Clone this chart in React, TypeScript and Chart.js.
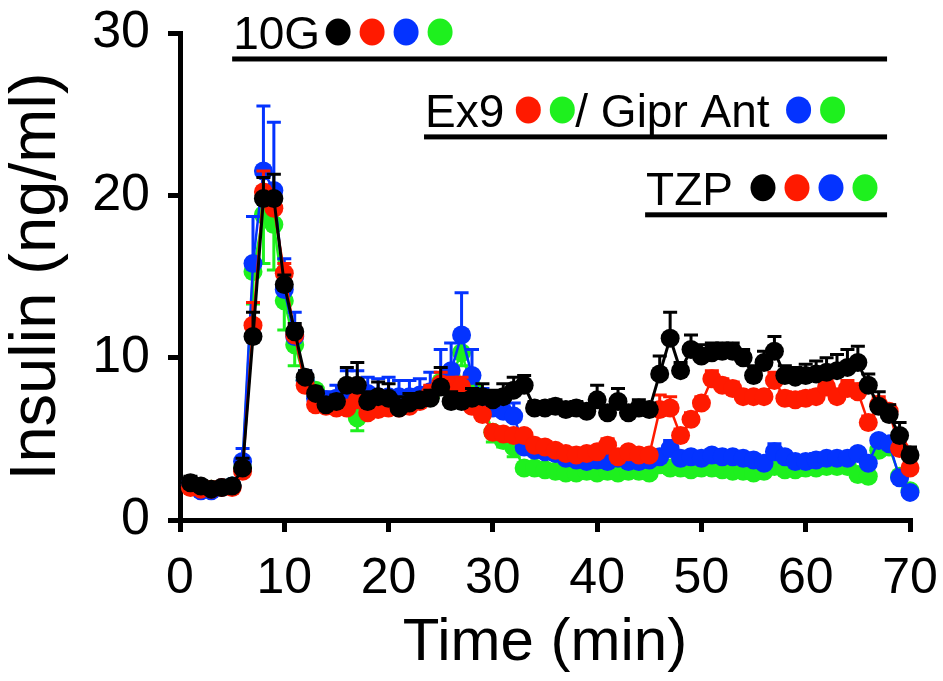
import React, { useEffect, useRef } from 'react';
import { Chart, registerables } from 'chart.js';

Chart.register(...registerables);

const FONT = '"Liberation Sans", Arial, Helvetica, sans-serif';

// Time points (min)
const TIME = [
  1, 2, 3, 4, 5, 6, 7, 8, 9, 10,
  11, 12, 13, 14, 15, 16, 17, 18, 19, 20,
  21, 22, 23, 24, 25, 26, 27, 28, 29, 30,
  31, 32, 33, 34, 35, 36, 37, 38, 39, 40,
  41, 42, 43, 44, 45, 46, 47, 48, 49, 50,
  51, 52, 53, 54, 55, 56, 57, 58, 59, 60,
  61, 62, 63, 64, 65, 66, 67, 68, 69, 70,
];

// Insulin (ng/ml)
const BLACK = [
  2.3, 2.1, 1.9, 2.0, 2.1, 3.2, 11.3, 19.8, 19.8, 14.5,
  11.6, 8.8, 7.8, 7.1, 7.3, 8.3, 8.3, 7.3, 7.6, 7.5,
  6.9, 7.2, 7.4, 7.5, 8.2, 7.3, 7.3, 7.5, 7.6, 7.4,
  7.6, 8.0, 8.3, 6.9, 6.9, 7.0, 6.8, 6.9, 6.7, 7.4,
  6.6, 7.3, 6.6, 6.9, 6.8, 9.0, 11.2, 9.2, 10.5, 10.1,
  10.3, 10.4, 10.4, 10.0, 8.9, 9.7, 10.4, 8.9, 8.8, 8.9,
  9.0, 9.1, 9.2, 9.4, 9.7, 8.3, 7.0, 6.5, 5.2, 4.0,
];
const BLACK_ERR = [
  0.4, 0.3, 0.3, 0.3, 0.3, 0.6, 1.5, 1.3, 1.5, 0.6,
  0.5, 0.4, 0.4, 0.4, 0.4, 1.1, 1.4, 0.6, 0.9, 0.9,
  0.7, 0.6, 0.4, 0.5, 1.2, 0.6, 0.5, 0.6, 0.8, 0.6,
  0.8, 0.8, 0.6, 0.4, 0.4, 0.4, 0.4, 0.4, 0.4, 0.9,
  0.4, 0.8, 0.4, 0.5, 0.4, 1.1, 1.6, 0.5, 0.9, 0.7,
  0.6, 0.5, 0.5, 0.5, 0.6, 0.7, 0.9, 0.6, 0.6, 0.7,
  0.8, 0.9, 1.0, 1.1, 1.0, 0.7, 0.9, 0.6, 0.8, 0.5,
];

const RED = [
  2.0, 1.9, 1.9, 2.0, 2.0, 3.0, 12.0, 20.2, 19.2, 15.2,
  11.4, 8.3, 7.1, 7.0, 6.9, 6.9, 7.4, 6.6, 6.8, 6.9,
  6.9, 7.0, 7.3, 7.8, 8.4, 8.2, 8.2, 7.0, 6.5, 5.4,
  5.3, 5.2, 5.2, 4.6, 4.5, 4.3, 4.1, 4.0, 4.1, 4.2,
  4.6, 3.9, 4.2, 4.0, 4.0, 6.8, 6.9, 5.2, 6.2, 7.2,
  8.7, 8.3, 8.1, 7.6, 7.6, 7.6, 8.6, 7.5, 7.4, 7.5,
  7.6, 8.2, 7.6, 8.1, 7.9, 6.0, 7.1, 6.7, 4.4, 3.2,
];
const RED_ERR = [
  0.3, 0.3, 0.3, 0.3, 0.3, 0.5, 1.4, 1.3, 0.6, 0.6,
  0.5, 0.4, 0.4, 0.3, 0.3, 0.3, 0.4, 0.3, 0.3, 0.3,
  0.3, 0.3, 0.4, 0.5, 0.7, 0.6, 0.6, 0.4, 0.3, 0.3,
  0.3, 0.3, 0.3, 0.3, 0.3, 0.3, 0.3, 0.3, 0.3, 0.3,
  0.4, 0.3, 0.3, 0.3, 0.3, 0.9, 0.7, 0.4, 0.4, 0.4,
  0.5, 0.4, 0.4, 0.3, 0.3, 0.3, 0.5, 0.4, 0.4, 0.4,
  0.4, 0.5, 0.4, 0.5, 0.5, 0.4, 0.5, 0.4, 0.4, 0.3,
];

const BLUE = [
  2.2, 1.8, 1.8, 2.0, 2.1, 3.6, 15.8, 21.5, 20.3, 14.2,
  11.3, 8.6, 7.5, 7.4, 7.5, 8.0, 8.2, 7.8, 7.6, 7.6,
  7.6, 7.6, 7.7, 7.9, 8.3, 9.2, 11.4, 8.9, 7.3, 6.9,
  6.7, 6.4, 4.5, 4.3, 4.2, 4.1, 3.8, 3.7, 3.6, 3.7,
  3.6, 3.8, 3.6, 3.6, 3.7, 3.9, 4.4, 3.8, 3.9, 3.8,
  4.0, 3.9, 3.9, 3.8, 3.7, 3.5, 4.2, 3.9, 3.6, 3.6,
  3.7, 3.8, 3.8, 3.8, 4.1, 3.5, 4.9, 4.7, 2.6, 1.7,
];
const BLUE_ERR = [
  0.3, 0.2, 0.2, 0.3, 0.3, 0.8, 2.9, 4.0, 4.2, 1.9,
  1.5, 0.6, 0.5, 0.5, 0.8, 1.2, 1.0, 1.0, 1.1, 1.2,
  1.0, 1.0, 1.0, 1.2, 2.2, 1.7, 2.6, 1.6, 0.8, 0.5,
  0.6, 0.8, 0.6, 0.5, 0.5, 0.4, 0.3, 0.3, 0.3, 0.3,
  0.3, 0.3, 0.3, 0.3, 0.3, 0.3, 0.5, 0.3, 0.3, 0.3,
  0.3, 0.3, 0.3, 0.3, 0.3, 0.3, 0.5, 0.3, 0.3, 0.3,
  0.4, 0.3, 0.3, 0.3, 0.3, 0.3, 0.3, 0.3, 0.3, 0.3,
];

const GREEN = [
  2.1, 2.0, 1.9, 2.0, 2.1, 3.2, 15.3, 18.8, 18.2, 13.5,
  10.8, 8.6, 8.0, 7.2, 7.3, 7.3, 6.3, 7.2, 7.3, 7.2,
  7.3, 7.3, 7.5, 7.6, 8.5, 8.8, 10.3, 8.2, 7.2, 5.4,
  4.9, 4.5, 3.2, 3.2, 3.1, 3.0, 2.9, 2.9, 3.0, 2.9,
  3.0, 2.9, 3.0, 3.0, 2.9, 3.4, 3.2, 3.2, 3.1, 3.2,
  3.2, 3.1, 3.0, 3.0, 2.9, 3.0, 3.3, 3.1, 3.1, 3.2,
  3.2, 3.3, 3.3, 3.3, 2.8, 2.7, 4.3, 4.5, 2.7, 1.8,
];
const GREEN_ERR = [
  0.3, 0.2, 0.2, 0.2, 0.2, 0.5, 2.0, 3.0, 2.8, 1.8,
  1.3, 0.5, 0.4, 0.3, 0.3, 0.3, 0.8, 0.3, 0.3, 0.3,
  0.3, 0.3, 0.3, 0.3, 0.5, 0.6, 0.8, 0.5, 0.4, 0.6,
  0.4, 0.6, 0.3, 0.3, 0.3, 0.3, 0.3, 0.3, 0.3, 0.3,
  0.3, 0.3, 0.3, 0.3, 0.3, 0.3, 0.3, 0.3, 0.3, 0.3,
  0.3, 0.3, 0.3, 0.3, 0.3, 0.3, 0.3, 0.3, 0.3, 0.3,
  0.3, 0.3, 0.3, 0.3, 0.3, 0.3, 0.3, 0.3, 0.3, 0.3,
];

const C_BLACK = '#000000';
const C_RED = '#ff1a00';
const C_BLUE = '#0433ff';
const C_GREEN = '#1ef01e';

// Treatment bars above the curves: start/end time (min), level (ng/ml scale), label parts
const TREATMENTS = [
  { from: 5, to: 67.8, level: 28.4, parts: [{ t: '10G' }, { gap: 5, dots: [C_BLACK, C_RED, C_BLUE, C_GREEN] }] },
  {
    from: 23.4, to: 67.8, level: 23.6,
    parts: [{ t: 'Ex9' }, { gap: 11, dots: [C_RED, C_GREEN] }, { t: '/ Gipr Ant' }, { gap: 16, dots: [C_BLUE, C_GREEN] }],
  },
  { from: 44.6, to: 67.8, level: 18.8, parts: [{ t: 'TZP' }, { gap: 17, dots: [C_BLACK, C_RED, C_BLUE, C_GREEN] }] },
];

const errorBarPlugin = {
  id: 'errorBars',
  beforeDatasetDraw(chart: any, args: any) {
    const ds = chart.data.datasets[args.index];
    if (!ds.errors) return;
    const ys = chart.scales.y;
    const ctx = chart.ctx;
    ctx.save();
    ctx.strokeStyle = ds.borderColor;
    ctx.lineWidth = 3;
    ctx.lineCap = 'butt';
    args.meta.data.forEach((pt: any, i: number) => {
      const v = ds.data[i].y;
      const e = ds.errors[i];
      const yEnd = ys.getPixelForValue(v + ds.errDir * e);
      const x = pt.x;
      ctx.beginPath();
      ctx.moveTo(x, pt.y);
      ctx.lineTo(x, yEnd);
      ctx.moveTo(x - 7, yEnd);
      ctx.lineTo(x + 7, yEnd);
      ctx.stroke();
    });
    ctx.restore();
  },
};

const treatmentPlugin = {
  id: 'treatments',
  afterDraw(chart: any) {
    const ctx = chart.ctx;
    const xs = chart.scales.x;
    const ys = chart.scales.y;
    ctx.save();
    ctx.font = '46px ' + FONT;
    ctx.textBaseline = 'alphabetic';
    ctx.textAlign = 'left';
    TREATMENTS.forEach((tr) => {
      const x0 = xs.getPixelForValue(tr.from);
      const x1 = xs.getPixelForValue(tr.to);
      const yl = ys.getPixelForValue(tr.level);
      ctx.fillStyle = '#000';
      ctx.fillRect(x0, yl - 2.5, x1 - x0, 5);
      const base = yl - 10;
      let cx = x0 + 1;
      tr.parts.forEach((p: any) => {
        if (p.t) {
          ctx.fillStyle = '#000';
          ctx.fillText(p.t, cx, base);
          cx += ctx.measureText(p.t).width;
        } else {
          cx += p.gap;
          p.dots.forEach((c: string, k: number) => {
            ctx.fillStyle = c;
            ctx.beginPath();
            ctx.ellipse(cx + 13, base - 17, 12.5, 13.5, 0, 0, Math.PI * 2);
            ctx.fill();
            cx += k < p.dots.length - 1 ? 34 : 26;
          });
        }
      });
    });
    ctx.restore();
  },
};

function makeSet(label: string, values: number[], errs: number[], dir: number, color: string, width: number) {
  return {
    label,
    data: TIME.map((t, i) => ({ x: t, y: values[i] })),
    errors: errs,
    errDir: dir,
    borderColor: color,
    backgroundColor: color,
    pointBackgroundColor: color,
    pointBorderColor: color,
    pointBorderWidth: 0,
    pointRadius: 9.5,
    borderWidth: width,
    showLine: true,
    tension: 0,
    clip: false,
  };
}

export default function App() {
  const ref = useRef<HTMLCanvasElement | null>(null);
  useEffect(() => {
    if (!ref.current) return;
    const axisCommon = {
      grid: { drawOnChartArea: false, drawTicks: true, tickLength: 12, lineWidth: 5, color: '#000' },
      border: { display: true, width: 5, color: '#000' },
    };
    const chart = new Chart(ref.current, {
      type: 'scatter',
      data: {
        datasets: [
          makeSet('Black', BLACK, BLACK_ERR, 1, C_BLACK, 3),
          makeSet('Red', RED, RED_ERR, 1, C_RED, 2.5),
          makeSet('Blue', BLUE, BLUE_ERR, 1, C_BLUE, 2.5),
          makeSet('Green', GREEN, GREEN_ERR, -1, C_GREEN, 2.5),
        ] as any,
      },
      options: {
        animation: false,
        responsive: false,
        layout: { autoPadding: false, padding: { left: 0, right: 33, top: 33, bottom: 0 } },
        plugins: { legend: { display: false }, tooltip: { enabled: false } },
        scales: {
          x: {
            type: 'linear',
            min: 0,
            max: 70,
            ...axisCommon,
            ticks: {
              stepSize: 10,
              color: '#000',
              padding: 22,
              maxRotation: 0,
              autoSkip: false,
              font: { family: FONT, size: 50, lineHeight: 1 },
            },
            title: {
              display: true,
              text: 'Time (min)',
              color: '#000',
              font: { family: FONT, size: 60, lineHeight: 1 },
              padding: { top: 0, bottom: 8 },
            },
            afterFit: (s: any) => {
              s.height = 161;
              s.paddingLeft = 0;
              s.paddingRight = 0;
            },
          },
          y: {
            type: 'linear',
            min: 0,
            max: 30,
            ...axisCommon,
            ticks: {
              stepSize: 10,
              color: '#000',
              padding: 18,
              font: { family: FONT, size: 52, lineHeight: 1 },
            },
            title: {
              display: true,
              text: 'Insulin (ng/ml)',
              color: '#000',
              font: { family: FONT, size: 65, lineHeight: 1 },
              padding: { top: 5, bottom: 0 },
            },
            afterFit: (s: any) => {
              s.width = 180;
              s.paddingTop = 0;
              s.paddingBottom = 0;
            },
          },
        },
      } as any,
      plugins: [errorBarPlugin, treatmentPlugin],
    });
    return () => chart.destroy();
  }, []);
  return (
    <div style={{ position: 'fixed', left: 0, top: 0, width: 943, height: 681, background: '#fff' }}>
      <canvas ref={ref} width={943} height={681} style={{ display: 'block' }} />
    </div>
  );
}
